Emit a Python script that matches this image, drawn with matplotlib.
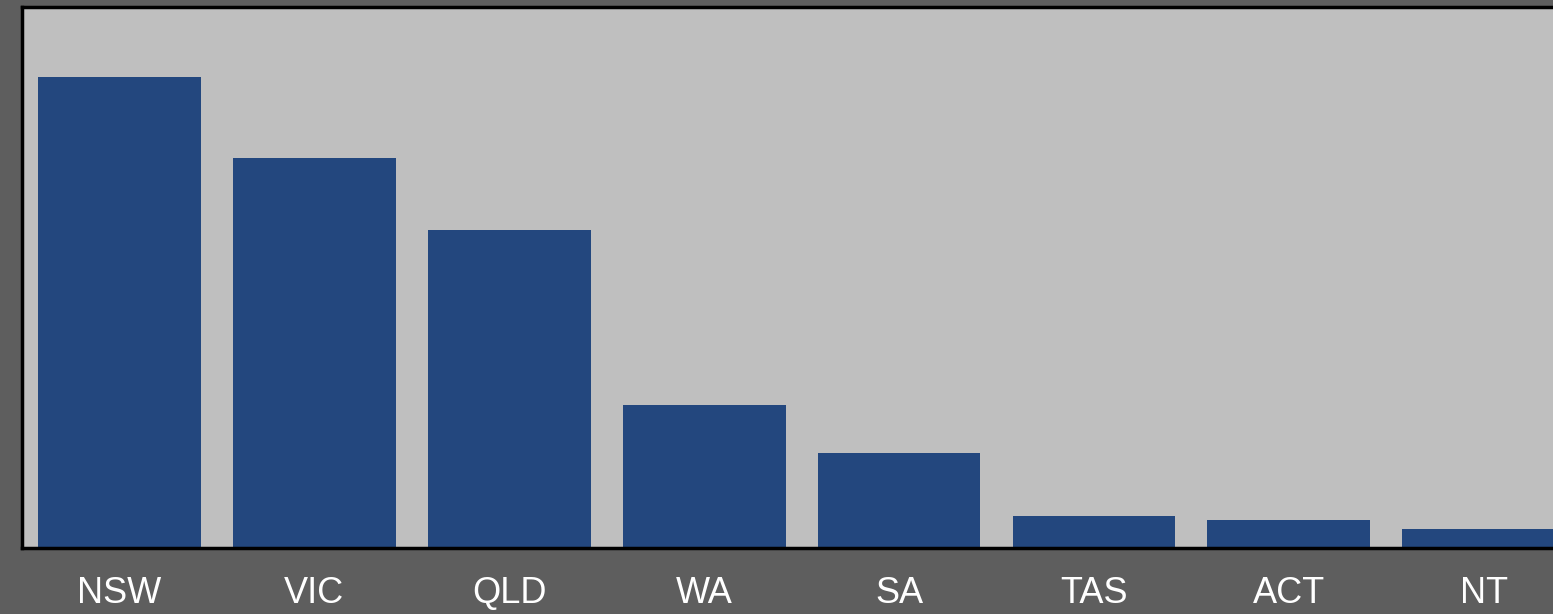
import matplotlib
matplotlib.use("Agg")
import matplotlib.pyplot as plt

states = ["NSW", "VIC", "QLD", "WA", "SA", "TAS", "ACT", "NT"]
values = [7.85, 6.51, 5.31, 2.38, 1.58, 0.54, 0.46, 0.32]

bg = "#5e5e5e"
panel = "#bfbfbf"
bar_col = "#23477e"

fig = plt.figure(figsize=(15.53, 6.14), dpi=100, facecolor=bg)
ax = fig.add_axes([0.0142, 0.1075, 1.0039, 0.8818])
ax.set_facecolor(panel)

x = range(len(states))
ax.bar(x, values, width=0.835, color=bar_col)

ax.set_xlim(-0.5, 7.5)
ax.set_ylim(0, 9.03)
ax.set_xticks(list(x))
ax.set_xticklabels(states, fontsize=26, color="white", family="Liberation Sans")
ax.tick_params(axis="x", length=0, pad=20)
ax.set_yticks([])

for s in ax.spines.values():
    s.set_color("black")
    s.set_linewidth(2.5)

fig.savefig("out.png", dpi=100, facecolor=bg)
